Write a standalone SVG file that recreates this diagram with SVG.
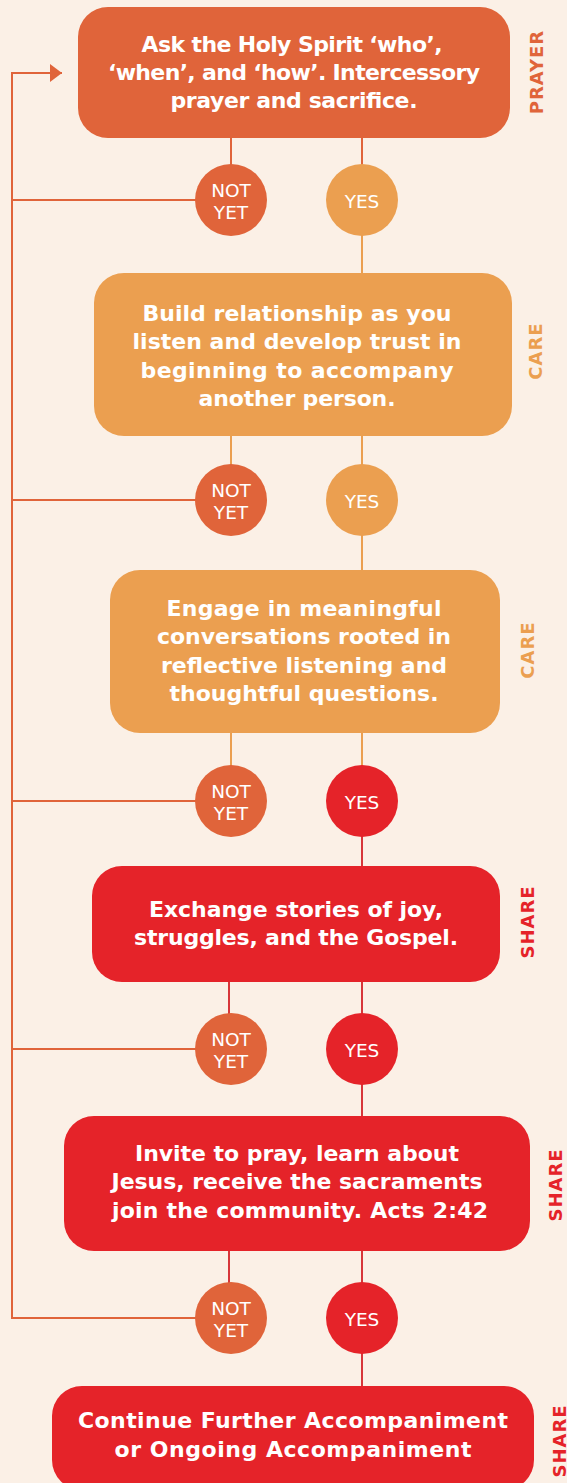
<svg xmlns="http://www.w3.org/2000/svg" width="567" height="1483" viewBox="0 0 567 1483">
<style>
.box text{font-family:"DejaVu Sans","Liberation Sans",sans-serif;font-weight:bold;font-size:22px;fill:#fff;text-anchor:middle}
.c text{font-family:"DejaVu Sans","Liberation Sans",sans-serif;font-size:18.5px;fill:#fff;text-anchor:middle}
.side{font-family:"DejaVu Sans","Liberation Sans",sans-serif;font-weight:bold;font-size:18px;letter-spacing:1px;text-anchor:middle}
.dk{fill:#E0643A}.lt{fill:#EB9F50}.rd{fill:#E52329}
.conn line,.conn path{fill:none;stroke-width:2}
.sdk{stroke:#E0643A}.slt{stroke:#EB9F50}.srd{stroke:#D7363A}
</style>
<defs>
<marker id="ah" markerWidth="12" markerHeight="18" refX="12" refY="9" orient="auto" markerUnits="userSpaceOnUse"><path d="M0,0 L12,9 L0,18 Z" fill="#E0643A"/></marker>
</defs>
<rect width="567" height="1483" fill="#FBF0E6"/>
<g id="connectors" class="conn">
<path class="sdk" d="M196,1318 H12 V73 H62" marker-end="url(#ah)"/>
<line class="sdk" x1="12" y1="200" x2="196" y2="200"/>
<line class="sdk" x1="12" y1="500" x2="196" y2="500"/>
<line class="sdk" x1="12" y1="801" x2="196" y2="801"/>
<line class="sdk" x1="12" y1="1049" x2="196" y2="1049"/>
<line class="sdk" x1="231" y1="138" x2="231" y2="165"/>
<line class="sdk" x1="362" y1="138" x2="362" y2="165"/>
<line class="slt" x1="362" y1="235" x2="362" y2="273"/>
<line class="slt" x1="231" y1="435" x2="231" y2="465"/>
<line class="slt" x1="362" y1="435" x2="362" y2="465"/>
<line class="slt" x1="362" y1="535" x2="362" y2="571"/>
<line class="slt" x1="231" y1="732" x2="231" y2="766"/>
<line class="slt" x1="362" y1="732" x2="362" y2="766"/>
<line class="srd" x1="362" y1="836" x2="362" y2="867"/>
<line class="srd" x1="229" y1="981" x2="229" y2="1014"/>
<line class="srd" x1="362" y1="981" x2="362" y2="1014"/>
<line class="srd" x1="362" y1="1084" x2="362" y2="1117"/>
<line class="srd" x1="229" y1="1250" x2="229" y2="1283"/>
<line class="srd" x1="362" y1="1250" x2="362" y2="1283"/>
<line class="srd" x1="362" y1="1353" x2="362" y2="1387"/>
</g>
<g id="n1" class="box">
<rect class="dk" x="78" y="7" width="432" height="131" rx="30"/>
<text x="292" y="52" textLength="301">Ask the Holy Spirit ‘who’,</text>
<text x="294" y="80" textLength="372">‘when’, and ‘how’. Intercessory</text>
<text x="294" y="108" textLength="247">prayer and sacrifice.</text>
</g>
<text class="side dk" transform="translate(536,72) rotate(-90)" y="6.5">PRAYER</text>
<g id="n2" class="box">
<rect class="lt" x="94" y="273" width="418" height="163" rx="30"/>
<text x="297" y="321" textLength="309">Build relationship as you</text>
<text x="297" y="349" textLength="329">listen and develop trust in</text>
<text x="297" y="378" textLength="313">beginning to accompany</text>
<text x="297" y="406" textLength="197">another person.</text>
</g>
<text class="side lt" transform="translate(535,351) rotate(-90)" y="6.5">CARE</text>
<g id="n3" class="box">
<rect class="lt" x="110" y="570" width="390" height="163" rx="30"/>
<text x="304" y="616" textLength="275">Engage in meaningful</text>
<text x="304" y="644" textLength="294">conversations rooted in</text>
<text x="304" y="673" textLength="286">reflective listening and</text>
<text x="304" y="701" textLength="269">thoughtful questions.</text>
</g>
<text class="side lt" transform="translate(527,650) rotate(-90)" y="6.5">CARE</text>
<g id="n4" class="box">
<rect class="rd" x="92" y="866" width="408" height="116" rx="30"/>
<text x="296" y="917" textLength="294">Exchange stories of joy,</text>
<text x="296" y="945" textLength="324">struggles, and the Gospel.</text>
</g>
<text class="side rd" transform="translate(527,922) rotate(-90)" y="6.5">SHARE</text>
<g id="n5" class="box">
<rect class="rd" x="64" y="1116" width="466" height="135" rx="30"/>
<text x="297" y="1161" textLength="324">Invite to pray, learn about</text>
<text x="297" y="1189" textLength="371">Jesus, receive the sacraments</text>
<text x="300" y="1218" textLength="376">join the community. Acts 2:42</text>
</g>
<text class="side rd" transform="translate(555,1185) rotate(-90)" y="6.5">SHARE</text>
<g id="n6" class="box">
<rect class="rd" x="52" y="1386" width="482" height="104" rx="30"/>
<text x="293" y="1428" textLength="430">Continue Further Accompaniment</text>
<text x="293" y="1457" textLength="357">or Ongoing Accompaniment</text>
</g>
<text class="side rd" transform="translate(559,1441) rotate(-90)" y="6.5">SHARE</text>
<g id="d1n" class="c"><circle class="dk" cx="231" cy="200" r="36"/><text x="231" y="197">NOT</text><text x="231" y="219">YET</text></g>
<g id="d1y" class="c"><circle class="lt" cx="362" cy="200" r="36"/><text x="362" y="208">YES</text></g>
<g id="d2n" class="c"><circle class="dk" cx="231" cy="500" r="36"/><text x="231" y="497">NOT</text><text x="231" y="519">YET</text></g>
<g id="d2y" class="c"><circle class="lt" cx="362" cy="500" r="36"/><text x="362" y="508">YES</text></g>
<g id="d3n" class="c"><circle class="dk" cx="231" cy="801" r="36"/><text x="231" y="798">NOT</text><text x="231" y="820">YET</text></g>
<g id="d3y" class="c"><circle class="rd" cx="362" cy="801" r="36"/><text x="362" y="809">YES</text></g>
<g id="d4n" class="c"><circle class="dk" cx="231" cy="1049" r="36"/><text x="231" y="1046">NOT</text><text x="231" y="1068">YET</text></g>
<g id="d4y" class="c"><circle class="rd" cx="362" cy="1049" r="36"/><text x="362" y="1057">YES</text></g>
<g id="d5n" class="c"><circle class="dk" cx="231" cy="1318" r="36"/><text x="231" y="1315">NOT</text><text x="231" y="1337">YET</text></g>
<g id="d5y" class="c"><circle class="rd" cx="362" cy="1318" r="36"/><text x="362" y="1326">YES</text></g>
</svg>
